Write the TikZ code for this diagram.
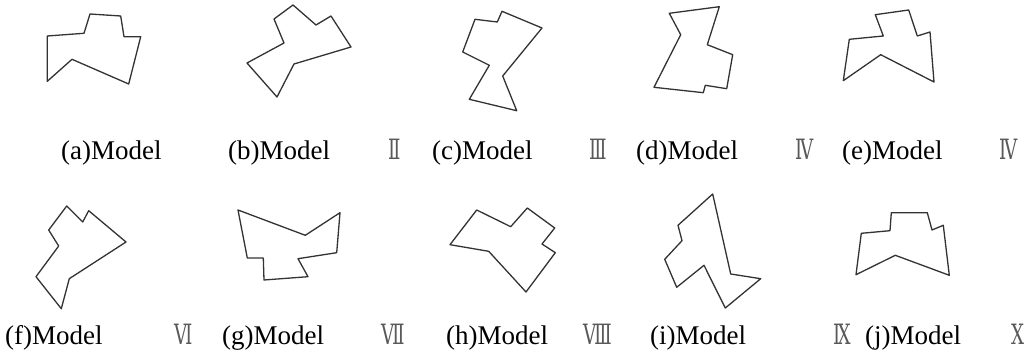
\documentclass[tikz,border=0pt]{standalone}
\usepackage{fontspec}
\setmainfont{Liberation Serif}
\newfontfamily\capfont{Liberation Serif}
\newfontfamily\numfont[FakeStretch=0.65]{DejaVu Serif}
\begin{document}
\begin{tikzpicture}[x=1pt,y=-1pt,
  poly/.style={draw=black!80, line width=1.3pt, line join=round},
  lab/.style={anchor=base west, inner sep=0pt, font=\capfont\fontsize{27}{27}\selectfont},
  num/.style={anchor=base west, inner sep=0pt, text=black!65, font=\numfont\fontsize{28}{28}\selectfont}]
\useasboundingbox[fill=white] (0,0) rectangle (1026,352);
% shapes, top row
\draw[poly] (47.3,36) -- (84,33.3) -- (90,14) -- (120.7,16) -- (124,36.7) -- (140.7,36.7) -- (128.7,84) -- (72,59.3) -- (47.3,81.3) -- cycle;
\draw[poly] (274,19) -- (293,5) -- (316,25) -- (331,16) -- (351,47) -- (294,64) -- (277,97) -- (247,63) -- (284,43) -- cycle;
\draw[poly] (475,19.3) -- (497.3,22) -- (502,11.3) -- (542,28) -- (502.7,76) -- (516.7,110.7) -- (469.3,99.3) -- (489.3,65.3) -- (462.7,52) -- cycle;
\draw[poly] (669.3,13.3) -- (719.3,6.7) -- (707.3,44.7) -- (732.7,54.7) -- (726.7,88.7) -- (705.3,85.3) -- (703.3,92.7) -- (654,87.3) -- (680.7,34.7) -- cycle;
\draw[poly] (849.3,39.3) -- (883.3,36) -- (875.3,14.7) -- (908.7,10) -- (917.3,36) -- (930,32) -- (934,82) -- (880.7,54.7) -- (843.3,80.7) -- cycle;
% shapes, bottom row
\draw[poly] (66.7,206) -- (82.7,222) -- (88.7,210.7) -- (126,242) -- (69.3,278.7) -- (61.3,308.7) -- (36,276.7) -- (58.7,246) -- (48.7,230) -- cycle;
\draw[poly] (238,210) -- (305.3,235.3) -- (340,212.7) -- (336.7,252.7) -- (298,258.7) -- (308,276.7) -- (264,280) -- (263.3,258) -- (247.3,258) -- cycle;
\draw[poly] (476.7,210) -- (510.7,226.7) -- (527.3,208) -- (554.7,228) -- (542,244) -- (555.3,252.7) -- (526,292) -- (488.7,251.3) -- (450,244.7) -- cycle;
\draw[poly] (712.7,194) -- (730.7,274) -- (760.7,278.7) -- (725.3,308) -- (704,265.3) -- (676.7,287.3) -- (664.7,259.3) -- (682,240.7) -- (678,225.3) -- cycle;
\draw[poly] (891.3,212.7) -- (927.3,212.7) -- (932,230) -- (943.3,225.3) -- (949.3,275.3) -- (895.3,255.3) -- (856,274.7) -- (861.3,233.3) -- (890,230.7) -- cycle;
% labels, top row
\node[lab] (la) at (61,160) {(a)Model};
\node[lab] (lb) at (228,160) {(b)Model};
\node[num] (nb) at (388,160) {Ⅱ};
\node[lab] (lc) at (432,160) {(c)Model};
\node[num] (nc) at (589,160) {Ⅲ};
\node[lab] (ld) at (636,160) {(d)Model};
\node[num] (nd) at (795,160) {Ⅳ};
\node[lab] (le) at (842,160) {(e)Model};
\node[num] (ne) at (999,160) {Ⅳ};
% labels, bottom row
\node[lab] (lf) at (5,345) {(f)Model};
\node[num] (nf) at (174,345) {Ⅵ};
\node[lab] (lg) at (222,345) {(g)Model};
\node[num] (ng) at (381,345) {Ⅶ};
\node[lab] (lh) at (446,345) {(h)Model};
\node[num] (nh) at (583,345) {Ⅷ};
\node[lab] (li) at (650,345) {(i)Model};
\node[num] (ni) at (833,345) {Ⅸ};
\node[lab] (lj) at (865,345) {(j)Model};
\node[num] (nj) at (1011,345) {Ⅹ};
\end{tikzpicture}
\end{document}
